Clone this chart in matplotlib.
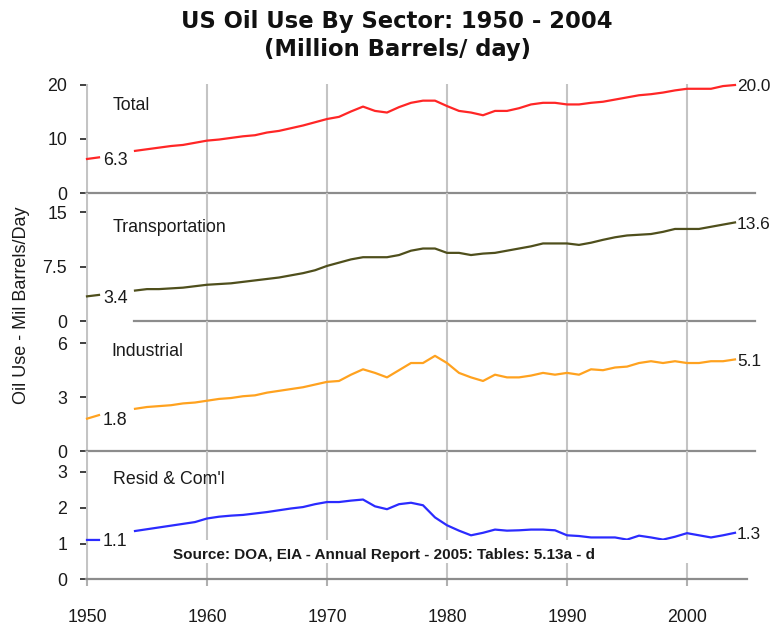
import numpy as np
import matplotlib
matplotlib.use("Agg")
import matplotlib.pyplot as plt
from matplotlib.patches import Rectangle

nan = np.nan
years = list(range(1950, 2005))

total = [6.3, 6.6, nan, nan, 7.8, 8.1, 8.4, 8.7, 8.9, 9.3,
         9.7, 9.9, 10.2, 10.5, 10.7, 11.2, 11.5, 12.0, 12.5, 13.1,
         13.7, 14.1, 15.1, 16.0, 15.2, 14.9, 15.9, 16.7, 17.1, 17.1,
         16.1, 15.2, 14.9, 14.4, 15.2, 15.2, 15.7, 16.4, 16.7, 16.7,
         16.4, 16.4, 16.7, 16.9, 17.3, 17.7, 18.1, 18.3, 18.6, 19.0,
         19.3, 19.3, 19.3, 19.8, 20.0]

transportation = [3.4, 3.6, nan, nan, 4.2, 4.4, 4.4, 4.5, 4.6, 4.8,
                  5.0, 5.1, 5.2, 5.4, 5.6, 5.8, 6.0, 6.3, 6.6, 7.0,
                  7.6, 8.05, 8.5, 8.8, 8.8, 8.8, 9.1, 9.7, 10.0, 10.0,
                  9.4, 9.4, 9.1, 9.3, 9.4, 9.7, 10.0, 10.3, 10.7, 10.7,
                  10.7, 10.5, 10.8, 11.2, 11.55, 11.8, 11.9, 12.0, 12.3, 12.7,
                  12.7, 12.7, 13.0, 13.3, 13.6]

industrial = [1.8, 2.0, nan, nan, 2.35, 2.45, 2.5, 2.55, 2.65, 2.7,
              2.8, 2.9, 2.95, 3.05, 3.1, 3.25, 3.35, 3.45, 3.55, 3.7,
              3.85, 3.9, 4.25, 4.55, 4.35, 4.1, 4.5, 4.9, 4.9, 5.3,
              4.9, 4.35, 4.1, 3.9, 4.25, 4.1, 4.1, 4.2, 4.35, 4.25,
              4.35, 4.25, 4.55, 4.5, 4.65, 4.7, 4.9, 5.0, 4.9, 5.0,
              4.9, 4.9, 5.0, 5.0, 5.1]

resid_coml = [1.1, 1.1, nan, nan, 1.35, 1.4, 1.45, 1.5, 1.55, 1.6,
              1.7, 1.75, 1.78, 1.8, 1.84, 1.88, 1.93, 1.98, 2.02, 2.1,
              2.16, 2.16, 2.2, 2.23, 2.04, 1.96, 2.1, 2.14, 2.07, 1.73,
              1.51, 1.36, 1.23, 1.3, 1.39, 1.36, 1.37, 1.39, 1.39, 1.37,
              1.23, 1.21, 1.17, 1.17, 1.17, 1.11, 1.22, 1.17, 1.11, 1.19,
              1.29, 1.23, 1.17, 1.23, 1.3]

panel_names = ["Total", "Transportation", "Industrial", "Resid & Com'l"]
panel_values = [total, transportation, industrial, resid_coml]
panel_colors = ["#ff2626", "#4f4f1c", "#ffa21f", "#2b2bff"]
panel_yticks = [[0, 10, 20], [0, 7.5, 15], [0, 3, 6], [0, 1, 2, 3]]
panel_yticklabels = [["0", "10", "20"], ["0", "7.5", "15"], ["0", "3", "6"], ["0", "1", "2", "3"]]
x_ticks = [1950, 1960, 1970, 1980, 1990, 2000]

title_line1 = "US Oil Use By Sector: 1950 - 2004"
title_line2 = "(Million Barrels/ day)"
y_label = "Oil Use - Mil Barrels/Day"
source_text = "Source: DOA, EIA - Annual Report - 2005: Tables: 5.13a - d"

# ---------------- layout ----------------
W, H = 772, 627
fig = plt.figure(figsize=(W / 100, H / 100), dpi=100)
fig.patch.set_facecolor("white")

X0, X1 = 1949.9, 2005.67
PX_PER_YEAR = 12.0
left_px = 87 + (X0 - 1950) * PX_PER_YEAR
right_px = 87 + (X1 - 1950) * PX_PER_YEAR

# (top px, bottom px, ylim top)
geom = [(84, 193, 20.185), (193, 321, 17.66), (321, 451, 7.24), (451, 579.3, 3.587)]
title_pos = [(113, 109.5), (113, 232.3), (111.7, 355.7), (113, 484.3)]

FONT = "Liberation Sans"
FS = 12.8
TXT = "#1a1a1a"
GRID = "#c4c4c4"
AXIS = "#8c8c8c"

axes = []
for i, (top, bot, ytop) in enumerate(geom):
    ax = fig.add_axes([left_px / W, 1 - bot / H, (right_px - left_px) / W, (bot - top) / H])
    ax.set_facecolor("none")
    ax.set_xlim(X0, X1)
    ax.set_ylim(0, ytop)
    for s in ["top", "right", "left"]:
        ax.spines[s].set_visible(False)
    ax.spines["bottom"].set_color(AXIS)
    ax.spines["bottom"].set_linewidth(1.6)
    ax.set_xticks(x_ticks)
    ax.grid(axis="x", color=GRID, linewidth=1.5)
    ax.set_axisbelow(True)
    ax.set_yticks(panel_yticks[i])
    ax.set_yticklabels(panel_yticklabels[i], fontfamily=FONT, fontsize=FS, color=TXT)
    ax.tick_params(axis="y", direction="out", length=4.5, width=1.3, color="#333333", pad=9)
    if i < 3:
        ax.tick_params(axis="x", length=0, labelbottom=False)
    else:
        ax.set_xticklabels([str(t) for t in x_ticks], fontfamily=FONT, fontsize=FS, color=TXT)
        ax.tick_params(axis="x", direction="out", length=5, width=1.5, color="#b0b0b0", pad=16.5)
    axes.append(ax)

axes[1].spines["bottom"].set_bounds(1953.9, X1)
axes[3].spines["bottom"].set_bounds(X0, 2005.0)

for i, ax in enumerate(axes):
    vals = panel_values[i]
    ax.plot(years, vals, color=panel_colors[i], linewidth=1.6, zorder=2, clip_on=False)
    ax.annotate(f"{vals[0]:.1f}", xy=(years[0], vals[0]), xytext=(11.5, -4.6),
                textcoords="offset points", ha="left", va="baseline",
                fontfamily=FONT, fontsize=FS, color=TXT, annotation_clip=False)
    ax.annotate(f"{vals[-1]:.1f}", xy=(years[-1], vals[-1]), xytext=(1.5, -4.6),
                textcoords="offset points", ha="left", va="baseline",
                fontfamily=FONT, fontsize=12.4, color=TXT, annotation_clip=False)
    tx, ty = title_pos[i]
    fig.text(tx / W, 1 - ty / H, panel_names[i], ha="left", va="baseline",
             fontfamily=FONT, fontsize=FS, color=TXT)

# white box behind source note in bottom panel
axb = axes[3]
axb.add_patch(Rectangle((1956.8, 0.456), 44.2, 0.643, facecolor="white",
                        edgecolor="none", zorder=3))
fig.text(173 / W, 1 - 558.5 / H, source_text, ha="left", va="baseline",
         fontfamily=FONT, fontweight="bold", fontsize=11, color=TXT, zorder=5)

fig.text(22 / W, 1 - 305 / H, y_label, rotation=90, ha="center", va="center",
         fontfamily=FONT, fontsize=13, color=TXT)

fig.text(397 / W, 1 - 28.3 / H, title_line1, ha="center", va="baseline",
         fontfamily="DejaVu Sans", fontweight="bold", fontsize=16.3, color="#111111")
fig.text(397 / W, 1 - 56.3 / H, title_line2, ha="center", va="baseline",
         fontfamily="DejaVu Sans", fontweight="bold", fontsize=16.3, color="#111111")

fig.savefig("out.png", dpi=100, facecolor="white")
